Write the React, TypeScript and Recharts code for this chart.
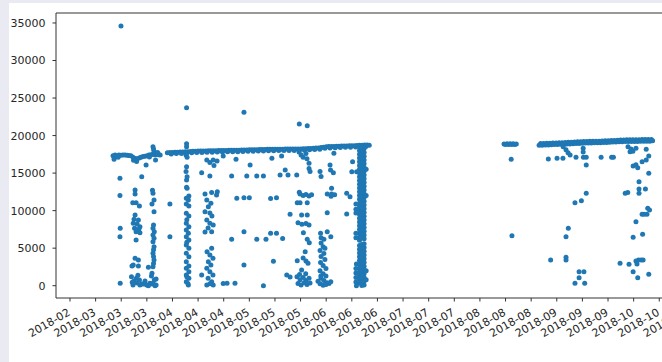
import React from "react";
import { ScatterChart, Scatter, XAxis, YAxis, ReferenceLine } from "recharts";

type P = [number, number];

// x = day of year 2018 (1 = Jan 1), y = value
const tickDays = [56, 66, 76, 86, 96, 106, 116, 126, 136, 146, 156, 166, 176, 186, 196, 206, 216, 226, 236, 246, 256, 266, 276, 286, 296];
const tickLabels = ["2018-02", "2018-03", "2018-03", "2018-03", "2018-04", "2018-04", "2018-04", "2018-05", "2018-05", "2018-05", "2018-06", "2018-06", "2018-06", "2018-07", "2018-07", "2018-07", "2018-08", "2018-08", "2018-08", "2018-09", "2018-09", "2018-09", "2018-10", "2018-10", "2018-10"];
const yTicks = [0, 5000, 10000, 15000, 20000, 25000, 30000, 35000];

const outliers: P[] = [[75.9, 34600], [101.5, 23720], [123.9, 23100], [145.5, 21540], [148.6, 21320]];

const bandMar: P[] = [
  [72.8, 17300], [73.6, 17410], [74.3, 17250], [75.1, 17410], [75.9, 17380], [76.7, 17410], [77.5, 17400], [78.3, 17380], [79.0, 17350], [79.8, 17300], [80.6, 17100], [81.4, 16950], [82.2, 16900], [83.0, 17000], [83.7, 17100], [84.5, 17200], [85.3, 17250], [86.1, 17300], [86.8, 17400], [87.6, 17450], [88.4, 17500], [89.2, 17450], [89.9, 17500], [90.7, 17450], [91.2, 17400],
  [73.2, 16850], [80.8, 16700], [82.0, 16550], [85.7, 16080], [88.4, 18500], [88.6, 18200], [88.8, 17900], [89.4, 16750], [90.2, 17750], [74.8, 17100], [87.0, 17150],
];

const colsMar: P[] = [
  [75.5, 14300], [75.5, 12000], [75.6, 7650], [75.5, 6530], [75.6, 320],
  [81.4, 12750], [81.4, 12220], [80.5, 11060], [81.8, 11060], [83.1, 10620], [81.4, 9420], [81.0, 8850], [82.7, 8750], [80.7, 8310], [82.2, 8220], [83.3, 7860], [81.2, 7650], [82.9, 7550], [81.8, 7200], [83.3, 7060], [81.8, 6090], [81.4, 3650], [82.7, 3420], [80.7, 2760], [82.7, 2620], [80.2, 2620], [80.0, 1200], [81.0, 630], [82.2, 360], [83.3, 90], [80.6, 90], [81.9, 990], [83.1, 760], [84.0, 230], [80.3, 450], [82.5, 1400],
  [84.6, 230], [85.3, 630], [85.9, 90], [86.6, 0], [87.2, 320], [88.0, 230], [89.2, 0], [86.6, 2450], [84.0, 14520],
  [88.4, 12310], [88.8, 11420], [88.0, 10890], [88.8, 9860], [88.4, 7650], [88.9, 7200], [88.4, 6750], [88.8, 6320], [88.4, 5860], [88.8, 5200], [88.4, 4320], [88.8, 3420], [88.4, 2530], [88.0, 1650], [88.9, 760], [88.4, 320], [89.6, 90], [87.8, 1290], [89.6, 890], [88.6, 8100], [88.6, 4800], [88.6, 3900], [88.6, 2950], [88.2, 12700],
  [95.0, 10890], [95.0, 6530],
];

const bandAprJun: P[] = [
  [94, 17720], [95, 17740], [96, 17750], [97, 17770], [98, 17790], [99, 17800], [100, 17820], [101, 17850], [102, 17860], [103, 17880], [104, 17900], [105, 17920], [106, 17940], [107, 17950], [108, 17960], [109, 17960], [110, 17970], [111, 17980], [112, 17980], [113, 17990], [114, 18000], [115, 18010], [116, 18010], [117, 18020], [118, 18030], [119, 18040], [120, 18040], [121, 18050], [122, 18060], [123, 18070], [124, 18080], [125, 18090], [126, 18100], [127, 18100], [128, 18110], [129, 18120], [130, 18130], [131, 18140], [132, 18160], [133, 18170], [134, 18170], [135, 18180], [136, 18180], [137, 18190], [138, 18190], [139, 18190], [140, 18200], [141, 18200], [142, 18200], [143, 18210], [144, 18210], [145, 18210], [146, 18220], [147, 18240], [148, 18260], [149, 18280], [150, 18290], [151, 18310], [152, 18330], [153, 18350], [154, 18400], [155, 18460], [156, 18520], [157, 18530], [158, 18540], [159, 18560], [160, 18570], [161, 18580], [162, 18600], [163, 18610], [164, 18620], [165, 18640], [166, 18650], [167, 18660], [168, 18680], [169, 18700], [170, 18710], [171, 18730], [172, 18750], [172.8, 18700],
  [95.5, 17550], [97.5, 17600], [99.5, 17620], [101.5, 17650], [103.5, 17700], [105.5, 17740], [107.5, 17760], [109.5, 17770], [111.5, 17790], [113.5, 17800], [115.5, 17820], [117.5, 17830], [119.5, 17850], [121.5, 17860], [123.5, 17880], [125.5, 17900], [127.5, 17910], [129.5, 17930], [131.5, 17950], [133.5, 17980], [135.5, 17990], [137.5, 18000], [139.5, 18000], [141.5, 18010], [143.5, 18020], [145.5, 18030], [147.5, 18060], [149.5, 18100], [151.5, 18130], [153.5, 18180], [155.5, 18300], [157.5, 18350], [159.5, 18380], [161.5, 18400], [163.5, 18430], [165.5, 18460], [167.5, 18480], [169.5, 18510], [171.5, 18550],
];

const nearBandAprJun: P[] = [
  [101.5, 18900], [101.5, 18500], [101.3, 17400], [101.7, 17100], [101.5, 15850], [101.3, 15200], [101.7, 14500], [101.5, 14080],
  [109.4, 16750], [110.6, 16400], [112.2, 16000], [113.4, 16600], [111.9, 16750], [107.4, 15060], [110.6, 14600],
  [115.8, 17280], [120.8, 16840], [126.3, 16080], [119.1, 14620], [125.0, 14620], [128.9, 14620], [131.5, 14620], [134.8, 16970], [138.6, 17280], [138.0, 14740], [141.1, 14740], [144.5, 14740], [140.0, 15420],
  [145.4, 17800], [146.2, 17400], [147.0, 17100], [148.1, 17600], [148.5, 16900], [149.3, 16300], [149.3, 15600], [149.7, 15200],
  [153.6, 15200], [154.0, 14540], [157.5, 16080], [157.7, 15420],
  [159.0, 17640], [158.8, 15060], [166.3, 16520], [166.0, 15190], [167.9, 15190],
];

const colsAprMay: P[] = [
  [101.5, 13110], [101.7, 12980], [102.4, 11950], [101.4, 11640], [102.2, 11420], [101.4, 10890], [102.4, 10620], [101.4, 9650], [102.4, 9290], [101.4, 8310], [102.4, 7860], [101.4, 7420], [102.2, 6980], [101.4, 6530], [102.4, 6090], [101.4, 5420], [102.4, 4980], [101.4, 4320], [102.4, 3860], [101.4, 3200], [102.4, 2620], [101.4, 2320], [102.4, 1870], [101.4, 1430], [102.4, 990], [101.4, 530], [102.2, 90], [101.6, 8800], [101.6, 5800], [101.6, 1200], [102.0, 300],
  [108.7, 12220], [111.3, 12400], [113.5, 12520], [113.2, 12080], [109.4, 11420], [111.0, 11000], [110.0, 10530], [108.7, 9860], [110.6, 9690], [111.4, 9290], [109.4, 8750], [110.6, 8310], [111.9, 8090], [109.9, 7690], [111.3, 7200], [108.7, 7150],
  [111.3, 4980], [109.5, 4530], [110.6, 4090], [111.8, 3650], [110.0, 3200], [111.0, 2760], [109.4, 2320], [110.6, 1870], [111.8, 1430], [109.9, 990], [111.3, 530], [109.4, 90], [111.9, 90], [107.4, 1430], [110.6, 250],
  [121.1, 11640], [123.9, 11720], [126.0, 11720], [134.3, 11600], [136.6, 11720], [141.9, 9510], [119.1, 6200], [123.9, 7200], [128.9, 6180], [132.5, 6180], [134.3, 6980], [136.6, 6980], [139.0, 6300], [123.9, 2760], [135.4, 3250], [115.8, 280], [117.3, 320], [120.4, 320], [131.5, 0], [140.6, 1430], [141.9, 1160],
];

const colsMayJun: P[] = [
  [145.5, 12440], [145.8, 12200], [147.0, 12000], [148.1, 12150], [149.3, 11950], [150.3, 12100], [144.7, 11060], [145.8, 11060], [148.6, 11060], [146.4, 9420], [148.6, 9420], [145.0, 8400], [146.5, 8200], [148.1, 8300], [149.3, 8090], [147.1, 7060], [148.6, 6180], [149.4, 5730], [147.8, 4530], [144.7, 3330], [147.0, 3700], [148.1, 3300], [148.9, 3000], [146.4, 2090], [144.6, 1200], [145.8, 800], [147.0, 1100], [148.1, 700], [149.3, 1000], [145.0, 300], [146.2, 100], [147.4, 400], [148.5, 150], [149.7, 350], [145.6, 1500], [148.0, 1600],
  [153.8, 6980], [156.4, 7200], [155.1, 6180], [154.0, 5700], [154.8, 5200], [153.6, 4700], [155.1, 4300], [154.0, 3900], [155.5, 3500], [153.8, 3100], [154.8, 2700], [155.9, 2300], [153.6, 2000], [154.8, 1600], [155.9, 1300], [154.0, 1000], [155.1, 700], [156.3, 400], [153.6, 250], [154.8, 50], [155.9, 150], [157.1, 300], [152.8, 600], [156.4, 9730], [156.4, 12200], [157.9, 11900], [159.3, 12100], [158.1, 12980], [154.0, 6400], [155.5, 5000], [153.9, 1300],
  [164.0, 12300], [165.3, 11850], [164.0, 9550], [157.8, 6530], [157.8, 530], [158.1, 12200],
];

const colJune: P[] = [
  [169.0, 18500], [170.8, 18250], [169.0, 18000], [170.8, 17750], [169.0, 17500], [170.8, 17250], [169.0, 17000], [170.8, 16750], [169.0, 16500], [170.8, 16250], [169.0, 16000], [170.8, 15750], [169.0, 15500], [170.8, 15250], [169.0, 15000], [170.8, 14750], [169.0, 14500], [170.8, 14250], [169.0, 14000], [170.8, 13750], [169.0, 13500], [170.8, 13250], [169.0, 13000], [170.8, 12750], [169.0, 12500], [170.8, 12250], [169.0, 12000], [170.8, 11750], [169.0, 11500], [170.8, 11250], [169.0, 11000], [170.8, 10750], [169.0, 10500], [170.8, 10250], [169.0, 10000], [170.8, 9750], [169.0, 9500], [170.8, 9250], [169.0, 9000], [170.8, 8750], [169.0, 8500], [170.8, 8250], [169.0, 8000], [170.8, 7750], [169.0, 7500], [170.8, 7250], [169.0, 7000], [170.8, 6750], [169.0, 6500], [170.8, 6250], [169.0, 6050], [170.8, 5600], [169.0, 5350], [170.8, 5100], [169.0, 4850], [170.8, 4600], [169.0, 4350], [170.8, 4100], [169.0, 3850], [170.8, 3600], [169.0, 3350], [170.8, 3100], [169.0, 2850], [170.8, 2600], [169.0, 2350], [170.8, 2100], [169.0, 1850], [170.8, 1600], [169.0, 1350], [170.8, 1100], [169.0, 850], [170.8, 600], [169.0, 350], [170.8, 100],
  [169.9, 18380], [169.9, 17880], [169.9, 17380], [169.9, 16880], [169.9, 16380], [169.9, 15880], [169.9, 15380], [169.9, 14880], [169.9, 14380], [169.9, 13880], [169.9, 13380], [169.9, 12880], [169.9, 12380], [169.9, 11880], [169.9, 11380], [169.9, 10880], [169.9, 10380], [169.9, 9880], [169.9, 9380], [169.9, 8880], [169.9, 8380], [169.9, 7880], [169.9, 7380], [169.9, 6880], [169.9, 6380], [169.9, 5480], [169.9, 4980], [169.9, 4480], [169.9, 3980], [169.9, 3480], [169.9, 2980], [169.9, 2480], [169.9, 1980], [169.9, 1480], [169.9, 980], [169.9, 480], [169.9, 30],
  [167.6, 10900], [167.6, 10200], [167.6, 9700], [167.6, 7000], [167.6, 6400], [167.8, 2900], [167.6, 2300], [167.6, 1700], [167.6, 1100], [167.6, 500], [167.8, 0], [171.6, 2000], [171.6, 800], [171.6, 12000], [171.6, 15500],
];

const bandAug: P[] = [
  [225.4, 18880], [226.0, 18800], [226.6, 18900], [227.2, 18820], [227.8, 18900], [228.4, 18820], [229.0, 18900], [229.6, 18820], [230.2, 18880], [228.2, 16840], [228.5, 6660],
];

const bandSepOct: P[] = [
  [239.1, 18700], [239.7, 18950], [240.3, 18720], [240.9, 18960], [241.5, 18740], [242.1, 18970], [242.7, 18760], [243.3, 18990], [243.9, 18780], [244.5, 19000], [245.1, 18800], [245.7, 19010], [246.3, 18810], [246.9, 19030], [247.5, 18830], [248.1, 19050], [248.7, 18850], [249.3, 19070], [249.9, 18870], [250.5, 19100], [251.1, 18890], [251.7, 19120], [252.3, 18920], [252.9, 19150], [253.5, 18940], [254.1, 19170], [254.7, 18960], [255.3, 19190], [255.9, 18980], [256.5, 19200], [257.1, 19000], [257.7, 19220], [258.3, 19010], [258.9, 19230], [259.5, 19020], [260.1, 19240], [260.7, 19030], [261.3, 19250], [261.9, 19040], [262.5, 19260], [263.1, 19050], [263.7, 19280], [264.3, 19070], [264.9, 19300], [265.5, 19090], [266.1, 19320], [266.7, 19110], [267.3, 19340], [267.9, 19130], [268.5, 19360], [269.1, 19150], [269.7, 19380], [270.3, 19170], [270.9, 19400], [271.5, 19190], [272.1, 19420], [272.7, 19200], [273.3, 19430], [273.9, 19210], [274.5, 19440], [275.1, 19210], [275.7, 19440], [276.3, 19220], [276.9, 19450], [277.5, 19220], [278.1, 19450], [278.7, 19230], [279.3, 19460], [279.9, 19230], [280.5, 19460], [281.1, 19240], [281.7, 19460], [282.3, 19240], [282.9, 19460], [283.4, 19300],
];

const scatterSepOct: P[] = [
  [242.7, 16880], [246.1, 16970], [248.4, 16970], [248.5, 18500], [249.6, 18100], [250.4, 17700], [251.2, 17400], [253.5, 17100], [256.4, 17100], [257.5, 17100], [256.3, 18300], [256.3, 17800], [257.5, 16080], [263.3, 17100], [267.4, 17100], [268.1, 17100], [273.8, 18500], [275.0, 18200], [275.7, 17900], [276.9, 18300], [274.6, 17850], [280.9, 18170], [281.9, 17280], [275.8, 15950], [277.6, 15720], [279.3, 16520], [280.9, 16750], [276.9, 16100], [281.9, 14970],
  [257.5, 12310], [255.6, 11330], [253.1, 11060], [272.7, 12310], [273.7, 12400], [278.1, 13860], [278.1, 12880], [280.6, 12880], [278.1, 12310], [281.5, 10310], [282.2, 10090], [279.3, 9510], [280.1, 9510], [281.2, 9510], [276.9, 8530], [279.5, 6850], [275.8, 6450],
  [250.5, 7650], [249.6, 6530], [243.6, 3420], [249.6, 3780], [249.6, 3420], [254.7, 1870], [256.6, 1870], [254.7, 1070], [253.1, 320], [256.9, 320], [270.7, 2980], [274.2, 2850], [276.9, 3300], [277.9, 3420], [278.9, 3420], [279.7, 3420], [277.3, 2900], [275.8, 1870], [277.6, 1070], [281.9, 1520],
];

const points = [
  ...outliers, ...bandMar, ...colsMar, ...bandAprJun, ...nearBandAprJun, ...colsAprMay, ...colsMayJun, ...colJune, ...bandAug, ...bandSepOct, ...scatterSepOct,
].map(([x, y]) => ({ x, y }));

const FONT = "'DejaVu Sans', sans-serif";
const TEXT = "#262626";
const SPINE = "#333";
const X_DOMAIN: [number, number] = [50.54, 301.9];
const Y_DOMAIN: [number, number] = [-1640, 36330];

const XTick = (props: any) => {
  const { x, y, payload, index } = props;
  const i = tickDays.indexOf(payload.value);
  const label = tickLabels[i >= 0 ? i : index];
  const ax = x + 1;
  const ay = y + 11;
  return (
    <text x={ax} y={ay} transform={`rotate(-30, ${ax}, ${ay})`} textAnchor="end" fontSize={11} fontFamily={FONT} fill={TEXT}>
      {label}
    </text>
  );
};

const YTick = (props: any) => {
  const { x, y, payload } = props;
  return (
    <text x={x} y={y} dy="0.36em" textAnchor="end" fontSize={11} fontFamily={FONT} fill={TEXT}>
      {payload.value}
    </text>
  );
};

const Dot = (props: any) => <circle cx={props.cx} cy={props.cy} r={2.5} fill="#1f77b4" />;

export default function App() {
  return (
    <div style={{ position: "fixed", left: 0, top: 0, width: 662, height: 362, overflow: "hidden", background: "#eaeaf2" }}>
      <div style={{ position: "absolute", left: 9, top: 3, right: 0, bottom: 0, background: "#ffffff" }} />
      <div style={{ position: "absolute", left: 0, top: 0 }}>
        <ScatterChart width={720} height={380} margin={{ top: 13, right: 20, bottom: 42, left: 0 }}>
          <XAxis
            dataKey="x"
            type="number"
            domain={X_DOMAIN}
            allowDataOverflow
            ticks={tickDays}
            interval={0}
            height={40}
            tickSize={3.5}
            tickMargin={2}
            axisLine={{ stroke: SPINE, strokeWidth: 1 }}
            tickLine={{ stroke: SPINE, strokeWidth: 1 }}
            tick={<XTick />}
          />
          <YAxis
            dataKey="y"
            type="number"
            domain={Y_DOMAIN}
            allowDataOverflow
            ticks={yTicks}
            interval={0}
            width={56}
            tickSize={3.5}
            tickMargin={7}
            axisLine={{ stroke: SPINE, strokeWidth: 1 }}
            tickLine={{ stroke: SPINE, strokeWidth: 1 }}
            tick={<YTick />}
          />
          <ReferenceLine y={Y_DOMAIN[1]} stroke={SPINE} strokeWidth={1} />
          <ReferenceLine x={X_DOMAIN[1]} stroke={SPINE} strokeWidth={1} />
          <Scatter data={points} shape={<Dot />} isAnimationActive={false} />
        </ScatterChart>
      </div>
    </div>
  );
}
